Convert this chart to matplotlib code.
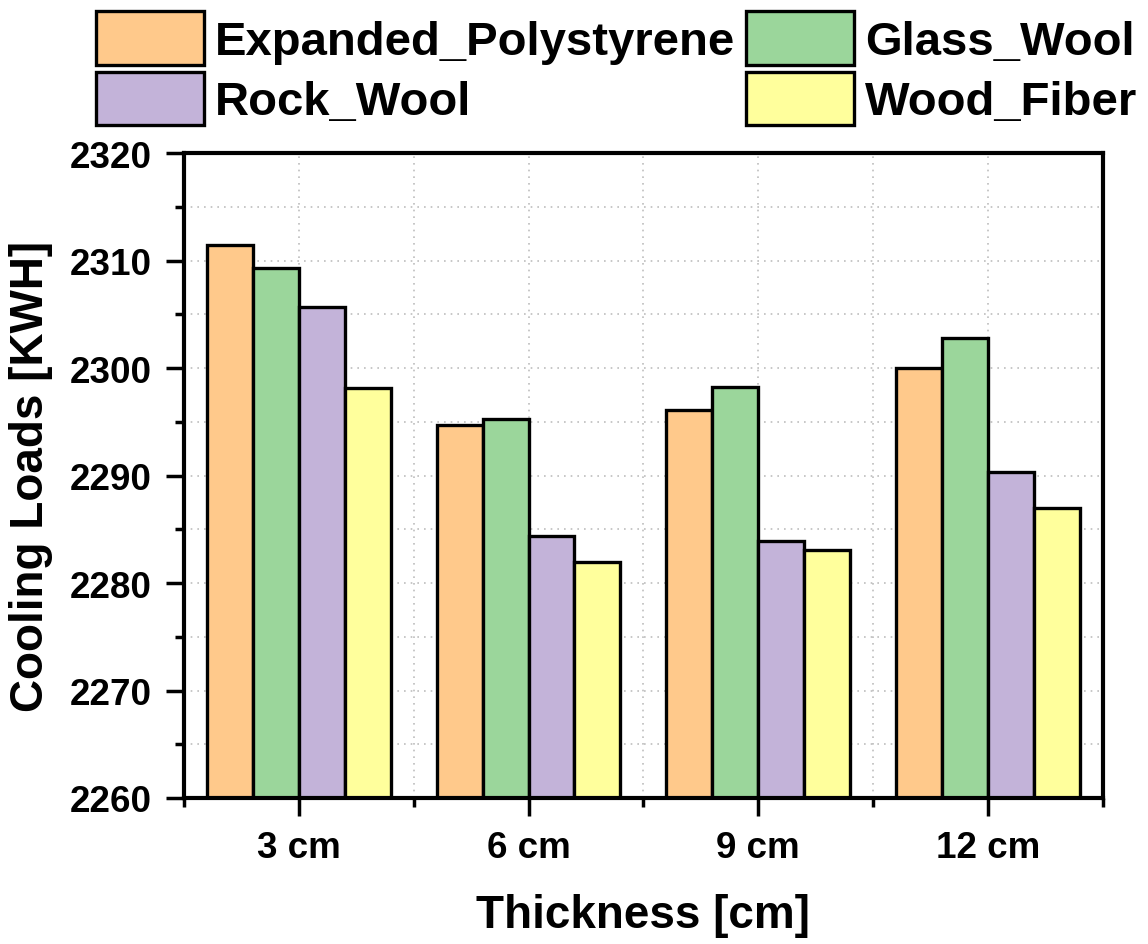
import matplotlib
matplotlib.use("Agg")
import matplotlib.pyplot as plt
import numpy as np
from matplotlib.ticker import MultipleLocator, FixedLocator

plt.rcParams['font.family'] = ['Liberation Sans', 'DejaVu Sans']
plt.rcParams['font.weight'] = 'bold'

categories = ["3 cm", "6 cm", "9 cm", "12 cm"]
series_names = ["Expanded_Polystyrene", "Glass_Wool", "Rock_Wool", "Wood_Fiber"]
eps = [2311.4, 2294.7, 2296.1, 2300.0]
glass_wool = [2309.3, 2295.3, 2298.2, 2302.8]
rock_wool = [2305.7, 2284.4, 2283.9, 2290.3]
wood_fiber = [2298.1, 2282.0, 2283.1, 2287.0]
colors = ["#FFC98B", "#9BD69B", "#C3B3D9", "#FFFF9C"]

values = [eps, glass_wool, rock_wool, wood_fiber]

fig = plt.figure(figsize=(11.48, 9.45), dpi=100)
ax = fig.add_axes([0.1603, 0.1545, 0.8002, 0.6825])

x = np.arange(1, len(categories) + 1)
width = 0.2
bars = []
for i, (name, vals, c) in enumerate(zip(series_names, values, colors)):
    b = ax.bar(x + (i - 1.5) * width, np.array(vals) - 2260, width=width, bottom=2260,
               color=c, edgecolor="black", linewidth=2.4, label=name, zorder=3)
    bars.append(b)

ax.set_xlim(0.5, 4.5)
ax.set_ylim(2260, 2320)
ax.yaxis.set_major_locator(MultipleLocator(10))
ax.yaxis.set_minor_locator(MultipleLocator(5))
ax.set_xticks(x)
ax.set_xticklabels(categories)
ax.xaxis.set_minor_locator(FixedLocator([0.5, 1.5, 2.5, 3.5, 4.5]))

ax.grid(True, which="both", axis="both", linestyle=(0, (1, 3)), color="#bdbdbd", linewidth=1.2, zorder=0)
ax.set_axisbelow(True)

for s in ax.spines.values():
    s.set_linewidth(3.0)
    s.set_zorder(5)

ax.tick_params(axis="both", which="major", length=13, width=2.5, labelsize=26.5, direction="out")
ax.tick_params(axis="both", which="minor", length=6.5, width=2.5, direction="out")
ax.tick_params(axis="y", which="major", pad=10)
ax.tick_params(axis="x", which="major", pad=10)
for lab in ax.get_xticklabels() + ax.get_yticklabels():
    lab.set_fontweight("bold")

ax.set_ylabel("Cooling Loads [KWH]", fontsize=33, fontweight="bold", labelpad=12)
ax.set_xlabel("Thickness [cm]", fontsize=33, fontweight="bold", labelpad=20)

# legend filled row-wise like the reference: EPS, Glass / Rock, Wood
order = [0, 2, 1, 3]
leg = fig.legend(handles=[bars[k] for k in order], labels=[series_names[k] for k in order],
                 ncol=2, loc="upper left",
                 bbox_to_anchor=(0.063, 1.012), frameon=False,
                 prop={"size": 34, "weight": "bold"},
                 handlelength=2.29, handleheight=1.37, handletextpad=0.23,
                 columnspacing=0.23, labelspacing=0.14, borderaxespad=0.1)
for p in leg.get_patches():
    p.set_linewidth(2.4)

fig.savefig("out.png", dpi=100)
